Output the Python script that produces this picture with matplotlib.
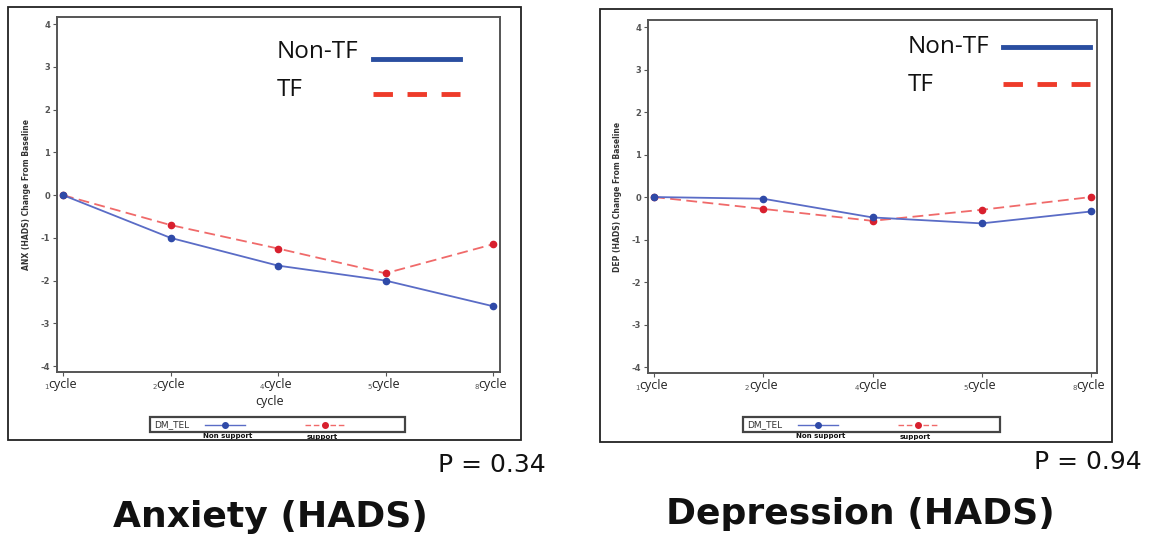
import numpy as np
import matplotlib.pyplot as plt
from matplotlib.patches import Rectangle
from matplotlib.lines import Line2D

# Data
cycles = ["1", "2", "4", "5", "8"]
anx_non_tf = [0.0, -1.0, -1.65, -2.0, -2.6]
anx_tf = [0.0, -0.7, -1.25, -1.83, -1.15]
dep_non_tf = [0.0, -0.04, -0.48, -0.62, -0.34]
dep_tf = [0.0, -0.28, -0.56, -0.30, 0.0]
yticks = [-4, -3, -2, -1, 0, 1, 2, 3, 4]

W, H = 1150, 541
fig = plt.figure(figsize=(W / 100, H / 100), dpi=100)

def fx(px):
    return px / W

def fy(py):
    return 1 - py / H

blue_line = "#5a6cc6"
blue_mark = "#2f4aa8"
red_line = "#f06a6a"
red_mark = "#d8202e"
leg_blue = "#2a4ea0"
leg_red = "#ee3b2a"

title_text = {"ANX": "Anxiety (HADS)", "DEP": "Depression (HADS)"}

def panel(frame, box, ylim, xlim, non_tf, tf, ylabel, xlab, leg, botleg, ptext, pval, title):
    # outer frame
    fx0, fy0, fx1, fy1 = frame
    fig.add_artist(Rectangle((fx(fx0), fy(fy1)), fx(fx1 - fx0), (fy1 - fy0) / H,
                             transform=fig.transFigure, fill=False,
                             edgecolor="#222222", lw=1.3))
    l, t, r, b = box
    ax = fig.add_axes([fx(l), fy(b), fx(r - l), (b - t) / H])
    x = np.arange(len(cycles))
    ax.plot(x, tf, color=red_line, lw=1.3, ls=(0, (6, 3)), zorder=2)
    ax.plot(x, non_tf, color=blue_line, lw=1.3, zorder=3)
    ax.plot(x, tf, ls="none", marker="o", ms=4.5, color=red_mark, zorder=4)
    ax.plot(x, non_tf, ls="none", marker="o", ms=4.5, color=blue_mark, zorder=4)
    ax.set_xlim(*xlim)
    ax.set_ylim(*ylim)
    ax.set_yticks(yticks)
    ax.set_yticklabels([str(v) for v in yticks], fontsize=6, color="#555555",
                       fontweight="bold")
    ax.set_xticks(x)
    ax.set_xticklabels(["cycle"] * len(cycles), fontsize=9, color="#222222",
                       family="Open Sans")
    ax.tick_params(length=3, width=0.8, color="#555555", pad=2)
    ax.tick_params(axis="x", pad=1)
    for s in ax.spines.values():
        s.set_color("#555555")
        s.set_linewidth(1.4)
    ax.set_ylabel(ylabel, fontsize=5.5, color="#333333", fontweight="bold", labelpad=7)
    # small cycle numbers sitting left of each "cycle" label
    for xi, c in zip(x, cycles):
        ax.annotate(c, (xi, 0), xycoords=("data", "axes fraction"),
                    xytext=(-10, -11), textcoords="offset points",
                    fontsize=5, color="#555555", ha="right", va="center")
    if xlab:
        ax.annotate("cycle", (2, 0), xycoords=("data", "axes fraction"),
                    xytext=(-6, -21), textcoords="offset points",
                    fontsize=9, color="#222222", ha="center", va="center",
                    family="Open Sans")
    # big overlaid legend
    (tx, ty1, ty2, lx0, lx1, ly1, ly2) = leg
    fig.text(fx(tx), fy(ty1), "Non-TF", fontsize=17.5, family="Open Sans",
             color="#111111", va="center", ha="left")
    fig.text(fx(tx), fy(ty2), "TF", fontsize=17.5, family="Open Sans",
             color="#111111", va="center", ha="left")
    fig.add_artist(Line2D([fx(lx0), fx(lx1)], [fy(ly1), fy(ly1)],
                          color=leg_blue, lw=3.5, transform=fig.transFigure))
    fig.add_artist(Line2D([fx(lx0), fx(lx1)], [fy(ly2), fy(ly2)],
                          color=leg_red, lw=3.5, ls=(0, (4, 3)),
                          transform=fig.transFigure))
    # bottom legend box
    bx0, by0, bx1, by1 = botleg
    fig.add_artist(Rectangle((fx(bx0), fy(by1)), fx(bx1 - bx0), (by1 - by0) / H,
                             transform=fig.transFigure, fill=False,
                             edgecolor="#444444", lw=1.6))
    ym = (by0 + by1) / 2
    fig.text(fx(bx0 + 4), fy(ym), "DM_TEL", fontsize=6.5, color="#333333",
             va="center", ha="left")
    fig.add_artist(Line2D([fx(bx0 + 55), fx(bx0 + 75), fx(bx0 + 95)],
                          [fy(ym), fy(ym), fy(ym)],
                          color=blue_line, lw=1, marker="o", ms=4,
                          markevery=[1], mfc=blue_mark, mec=blue_mark,
                          transform=fig.transFigure))
    fig.add_artist(Line2D([fx(bx0 + 155), fx(bx0 + 175), fx(bx0 + 195)],
                          [fy(ym), fy(ym), fy(ym)],
                          color=red_line, lw=1, ls=(0, (4, 2)), marker="o", ms=4,
                          markevery=[1], mfc=red_mark, mec=red_mark,
                          transform=fig.transFigure))
    fig.text(fx(bx0 + 78), fy(by1 + 4), "Non support", fontsize=5, color="#111111",
             va="center", ha="center", fontweight="bold")
    fig.text(fx(bx0 + 172), fy(by1 + 5), "support", fontsize=5, color="#111111",
             va="center", ha="center", fontweight="bold")
    # p-value and title
    px, py = ptext
    fig.text(fx(px), fy(py), "P = " + pval, fontsize=18,
             family=["Liberation Sans Narrow", "DejaVu Sans"],
             color="#111111", ha="right", va="center")
    tx_, ty_ = title
    fig.text(fx(tx_), fy(ty_), title_text[ylabel[:3]], fontsize=26,
             family="DejaVu Sans", fontweight="heavy",
             color="#111111", ha="center", va="center")
    return ax

panel((8, 7, 521, 440), (57, 17, 500, 372), (-4.14, 4.17), (-0.056, 4.065),
      anx_non_tf, anx_tf, "ANX (HADS) Change From Baseline", True,
      (277, 52, 90, 373, 460, 59, 94), (150, 417, 405, 432),
      (546, 465), "0.34", (270, 517))
panel((600, 9, 1112, 442), (648, 20, 1097, 373), (-4.14, 4.165), (-0.055, 4.055),
      dep_non_tf, dep_tf, "DEP (HADS) Change From Baseline", False,
      (908, 47, 85, 1003, 1090, 47, 84), (743, 417, 1000, 432),
      (1142, 462), "0.94", (860, 514))

fig.savefig("out.png", dpi=100)
